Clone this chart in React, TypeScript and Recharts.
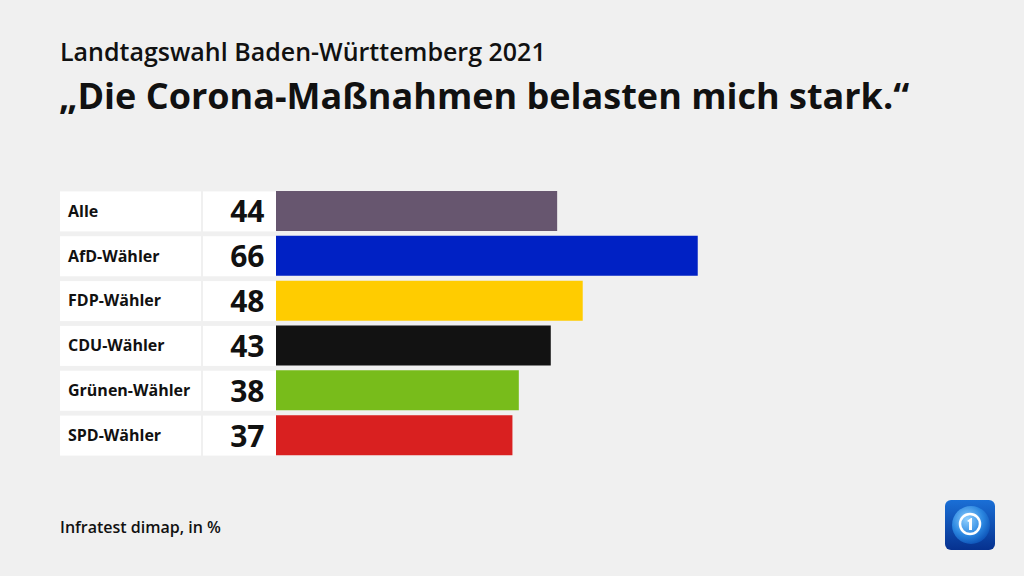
import { BarChart, Bar, XAxis, YAxis, Cell } from 'recharts';

// Daten
const categories = ['Alle', 'AfD-Wähler', 'FDP-Wähler', 'CDU-Wähler', 'Grünen-Wähler', 'SPD-Wähler'];
const values = [44, 66, 48, 43, 38, 37];
const barColors = ['#67566f', '#0021c4', '#ffcc00', '#121212', '#78bc1b', '#d92020'];

const supertitle = 'Landtagswahl Baden-Württemberg 2021';
const title = '„Die Corona-Maßnahmen belasten mich stark.“';
const source = 'Infratest dimap, in %';

const FONT = '"Open Sans", "Noto Sans", sans-serif';

const data = categories.map((name, i) => ({ name, value: values[i] }));

// Zeilenbeschriftung: weiße Kästen mit Gruppe und Wert
function RowTick(props: any) {
  const { y, payload, index } = props;
  const top = y - 20;
  return (
    <g>
      <rect x={60} y={top} width={141} height={40} fill="#ffffff" />
      <rect x={203} y={top} width={73} height={40} fill="#ffffff" />
      <text
        x={68}
        y={y + 5.3}
        fontFamily={FONT}
        fontWeight={700}
        fontSize={16}
        fill="#111"
      >
        {payload.value}
      </text>
      <text
        x={264.5}
        y={y + 11}
        textAnchor="end"
        fontFamily={FONT}
        fontWeight={700}
        fontSize={30}
        fill="#111"
      >
        {values[index]}
      </text>
    </g>
  );
}

function Logo() {
  return (
    <svg width={50} height={50} style={{ position: 'absolute', left: 945, top: 500 }}>
      <defs>
        <linearGradient id="logoBg" x1="0" y1="0" x2="0" y2="1">
          <stop offset="0%" stopColor="#1a6fd6" />
          <stop offset="100%" stopColor="#06318f" />
        </linearGradient>
        <radialGradient id="globe" cx="0.4" cy="0.35" r="0.7">
          <stop offset="0%" stopColor="#8fd0ff" />
          <stop offset="60%" stopColor="#2a86e0" />
          <stop offset="100%" stopColor="#0b4fb5" />
        </radialGradient>
      </defs>
      <rect x={0} y={0} width={50} height={50} rx={6} fill="url(#logoBg)" />
      <circle cx={26} cy={25} r={19} fill="url(#globe)" />
      <circle cx={25} cy={24} r={10} fill="none" stroke="#ffffff" strokeWidth={2.5} />
      <path d="M22 21 L26 18 L27 18 L27 30 L24 30 L24 22 Z" fill="#ffffff" />
    </svg>
  );
}

export default function App() {
  return (
    <div
      style={{
        position: 'fixed',
        left: 0,
        top: 0,
        width: 1024,
        height: 576,
        background: '#f0f0f0',
        fontFamily: FONT,
        color: '#111',
        overflow: 'hidden',
      }}
    >
      <div style={{ position: 'absolute', left: 60, top: 39, fontSize: 25, lineHeight: '25px', fontWeight: 600, whiteSpace: 'nowrap' }}>
        {supertitle}
      </div>
      <div style={{ position: 'absolute', left: 59, top: 78, fontSize: 36, lineHeight: '36px', fontWeight: 700, whiteSpace: 'nowrap' }}>
        {title}
      </div>

      <div style={{ position: 'absolute', left: 0, top: 0 }}>
        <BarChart
          width={1024}
          height={576}
          data={data}
          layout="vertical"
          margin={{ top: 189, right: 109, bottom: 118, left: 0 }}
          barCategoryGap={0}
        >
          <XAxis type="number" domain={[0, 100]} hide />
          <YAxis
            type="category"
            dataKey="name"
            width={276}
            axisLine={false}
            tickLine={false}
            tick={<RowTick />}
            interval={0}
          />
          <Bar dataKey="value" barSize={40} isAnimationActive={false}>
            {data.map((d, i) => (
              <Cell key={d.name} fill={barColors[i]} />
            ))}
          </Bar>
        </BarChart>
      </div>

      <div style={{ position: 'absolute', left: 60, top: 519, fontSize: 16, lineHeight: '16px', fontWeight: 600, whiteSpace: 'nowrap' }}>
        {source}
      </div>
      <Logo />
    </div>
  );
}
